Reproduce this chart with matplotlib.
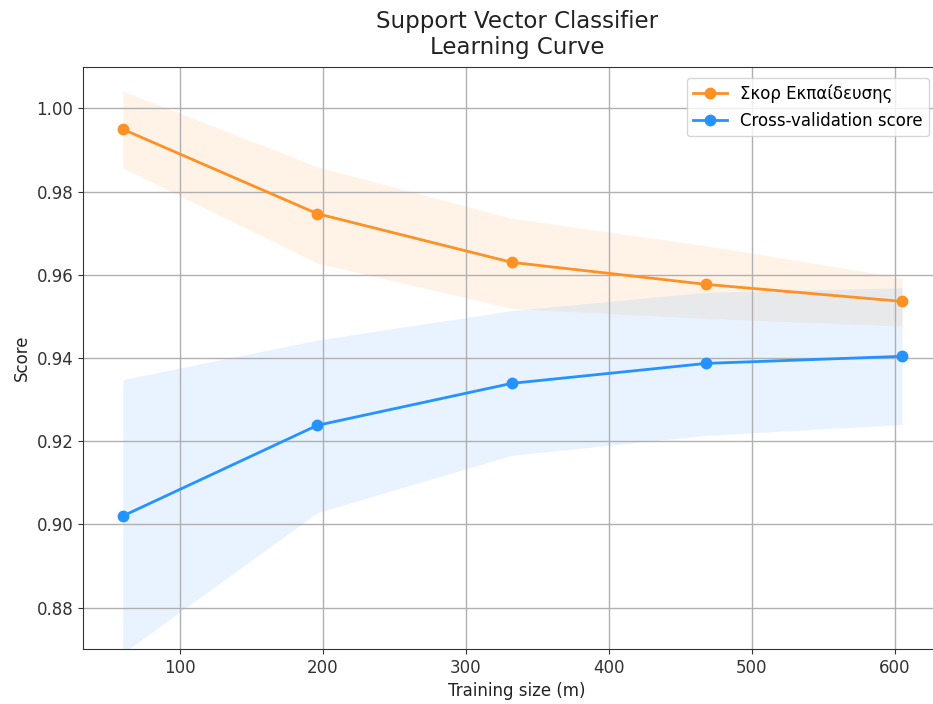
import matplotlib.pyplot as plt
import numpy as np

# learning curve values (mean and band limits per training size)
train_sizes = np.array([60, 196, 332, 468, 605])

train_mean = np.array([0.9950, 0.9747, 0.9630, 0.9577, 0.9536])
train_upper = np.array([1.0042, 0.9860, 0.9736, 0.9670, 0.9593])
train_lower = np.array([0.9857, 0.9628, 0.9519, 0.9495, 0.9477])

cv_mean = np.array([0.9020, 0.9238, 0.9339, 0.9387, 0.9404])
cv_upper = np.array([0.9348, 0.9443, 0.9514, 0.9558, 0.9569])
cv_lower = np.array([0.8690, 0.9028, 0.9166, 0.9214, 0.9240])

fig = plt.figure(figsize=(9.33, 7.04), dpi=100)
ax = fig.add_axes([0.089, 0.078, 0.93, 0.827])

ax.fill_between(train_sizes, train_lower, train_upper, alpha=0.1, color="#ff9124", lw=0)
ax.fill_between(train_sizes, cv_lower, cv_upper, alpha=0.1, color="#2492ff", lw=0)
ax.plot(train_sizes, train_mean, 'o-', color="#ff9124", lw=2, ms=7.5, label="Σκορ Εκπαίδευσης")
ax.plot(train_sizes, cv_mean, 'o-', color="#2492ff", lw=2, ms=7.5, label="Cross-validation score")

ax.set_title("Support Vector Classifier\nLearning Curve", fontsize=16.5, color="#222222", pad=9)
ax.set_xlabel("Training size (m)", fontsize=12, color="#222222")
ax.set_ylabel("Score", fontsize=12, color="#222222")
ax.set_ylim(0.87, 1.01)
ax.set_xlim(32.2, 639)
ax.set_xticks([100, 200, 300, 400, 500, 600])
ax.set_yticks([0.88, 0.90, 0.92, 0.94, 0.96, 0.98, 1.00])
ax.tick_params(labelsize=12, colors="#333333")
ax.grid(True, color="#b0b0b0", lw=1)
for s in ax.spines.values():
    s.set_color("#333333")
ax.spines["right"].set_visible(False)
ax.legend(loc="upper right", bbox_to_anchor=(0.985, 0.995), fontsize=12)

fig.savefig("out.png", dpi=100)
